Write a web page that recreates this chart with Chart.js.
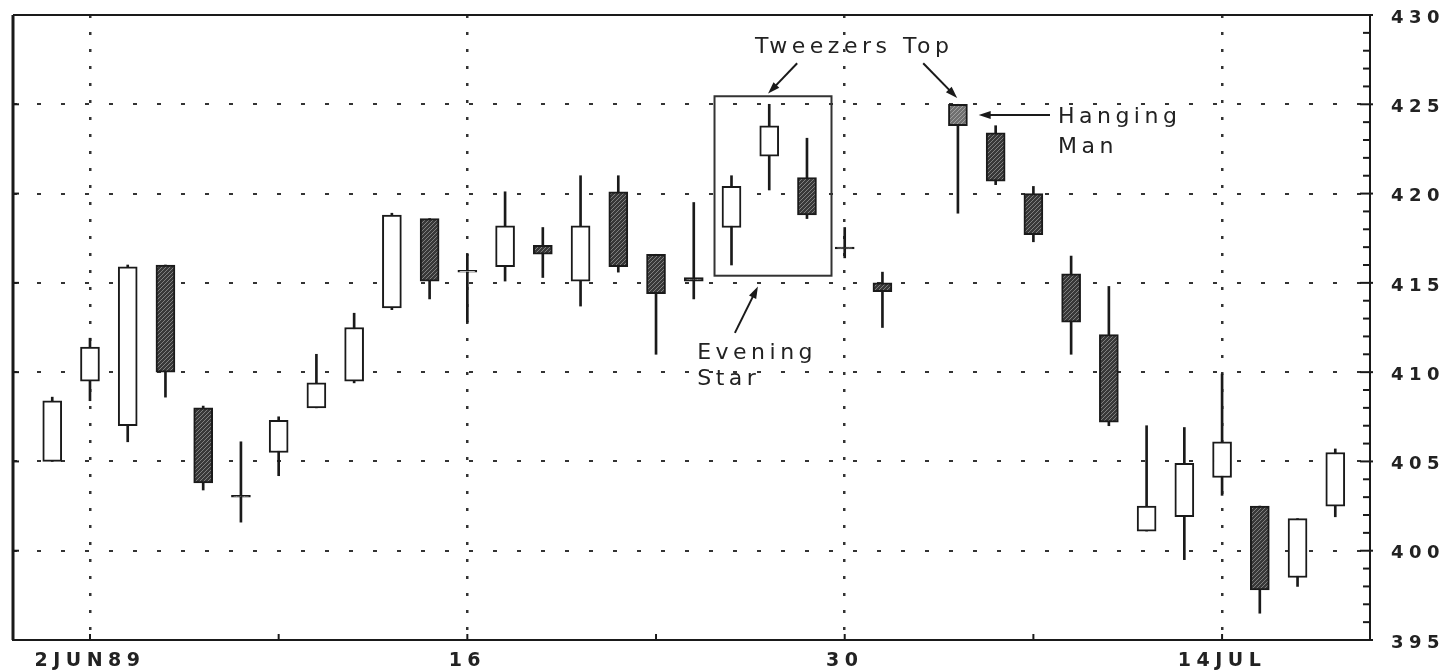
<!DOCTYPE html>
<html>
<head>
<meta charset="utf-8">
<title>Tweezers Top / Hanging Man / Evening Star</title>
<script src="https://cdn.jsdelivr.net/npm/chart.js@4.4.1/dist/chart.umd.min.js"></script>
<style>
  html, body { margin: 0; padding: 0; background: #fff; }
  #wrap { width: 1450px; height: 670px; position: relative; }
</style>
</head>
<body>
<div id="wrap"><canvas id="c"></canvas></div>
<script>
// ---------- Data (daily candles, one slot per weekday, 4 JUL = holiday) ----------
const days = ['1JUN','2JUN','5JUN','6JUN','7JUN','8JUN','9JUN','12JUN','13JUN','14JUN','15JUN',
  '16JUN','19JUN','20JUN','21JUN','22JUN','23JUN','26JUN','27JUN','28JUN','29JUN','30JUN',
  '3JUL','4JUL','5JUL','6JUL','7JUL','10JUL','11JUL','12JUL','13JUL','14JUL','17JUL','18JUL','19JUL'];
const opens  = [405.0,409.5,407.0,416.0,408.0,403.1,405.5,408.0,409.5,413.6,418.6,415.6,415.9,417.1,415.1,420.1,416.6,415.3,418.1,422.1,420.9,417.0,415.0,null,425.0,423.4,420.0,415.5,412.1,401.1,401.9,404.1,402.5,398.5,402.5];
const highs  = [408.6,411.9,416.0,416.0,408.1,406.1,407.5,411.0,413.3,418.9,418.6,416.6,420.1,418.1,421.0,421.0,416.6,419.5,421.0,425.0,423.1,418.1,415.6,null,425.0,423.8,420.4,416.5,414.8,407.0,406.9,409.9,402.5,401.8,405.7];
const lows   = [405.0,408.4,406.1,408.6,403.4,401.6,404.2,408.0,409.4,413.5,414.1,412.8,415.1,415.3,413.7,415.6,411.0,414.1,416.0,420.2,418.6,416.4,412.5,null,418.9,420.5,417.3,411.0,407.0,401.1,399.5,403.1,396.5,398.0,401.9];
const closes = [408.4,411.4,415.9,410.0,403.8,403.0,407.3,409.4,412.5,418.8,415.1,415.7,418.2,416.6,418.2,415.9,414.4,415.1,420.4,423.8,418.8,416.9,414.5,null,423.8,420.7,417.7,412.8,407.2,402.5,404.9,406.1,397.8,401.8,405.5];

// x-axis labels (slot index -> text)
const xTickIdx = [1, 11, 21, 31];
const xTickLabels = ['2JUN89', '16', '30', '14JUL'];
// price axis
const yTicks = [395, 400, 405, 410, 415, 420, 425, 430];

// ---------- Annotations (in slot / price units) ----------
const hangingIdx = 24;
const patternBox = { x1: 17.55, x2: 20.65, y1: 415.4, y2: 425.45 };
const arrows = [
  { from: [19.74, 427.3], to: [18.97, 425.6] },
  { from: [23.08, 427.3], to: [23.98, 425.35] },
  { from: [26.44, 424.4], to: [24.55, 424.4] },
  { from: [18.09, 412.2], to: [18.70, 414.8] }
];
const notes = [
  { text: 'Tweezers Top', x: 21.2, y: 428.2, align: 'center' },
  { text: 'Hanging', x: 26.65, y: 424.3, align: 'left' },
  { text: 'Man', x: 26.65, y: 422.6, align: 'left' },
  { text: 'Evening', x: 17.09, y: 411.05, align: 'left' },
  { text: 'Star', x: 17.09, y: 409.6, align: 'left' }
];

// ---------- Build bar data from the arrays ----------
const wickData = [];
const bodyData = [];
days.forEach((d, i) => {
  if (opens[i] === null) return; // holiday, no trading
  wickData.push({ x: i, y: [lows[i], highs[i]] });
  bodyData.push({ x: i, y: [Math.min(opens[i], closes[i]), Math.max(opens[i], closes[i])], up: closes[i] >= opens[i], day: i });
});

// stippled dark fill like the printed black candles
function stipple(base, dot) {
  const c = document.createElement('canvas');
  c.width = 4; c.height = 4;
  const g = c.getContext('2d');
  g.fillStyle = base; g.fillRect(0, 0, 4, 4);
  g.fillStyle = dot;
  g.fillRect(0, 0, 1, 1); g.fillRect(2, 2, 1, 1); g.fillRect(1, 3, 1, 1); g.fillRect(3, 1, 1, 1);
  return g.createPattern(c, 'repeat');
}
const darkFill = stipple('#383838', '#808080');
const greyFill = stipple('#707070', '#a0a0a0');

const FONT = "'DejaVu Sans', 'Liberation Sans', sans-serif";

// ---------- Extra drawing: frame, minor ticks, pattern annotations ----------
function arrowLine(ctx, x1, y1, x2, y2) {
  const a = Math.atan2(y2 - y1, x2 - x1);
  const len = 12, half = 4;
  ctx.beginPath();
  ctx.moveTo(x1, y1);
  ctx.lineTo(x2 - Math.cos(a) * len * 0.6, y2 - Math.sin(a) * len * 0.6);
  ctx.stroke();
  ctx.beginPath();
  ctx.moveTo(x2, y2);
  ctx.lineTo(x2 - Math.cos(a) * len - Math.sin(a) * half, y2 - Math.sin(a) * len + Math.cos(a) * half);
  ctx.lineTo(x2 - Math.cos(a) * len + Math.sin(a) * half, y2 - Math.sin(a) * len - Math.cos(a) * half);
  ctx.closePath();
  ctx.fill();
}

const extras = {
  id: 'extras',
  beforeDraw(chart) {
    // the printed axis lettering is wide, spread it a little
    chart.ctx.letterSpacing = '5.5px';
  },
  afterDraw(chart) {
    const ctx = chart.ctx;
    const { left, right, top, bottom } = chart.chartArea;
    const xs = chart.scales.x, ys = chart.scales.y;
    ctx.save();
    ctx.letterSpacing = '0px';
    ctx.strokeStyle = '#1a1a1a';
    ctx.fillStyle = '#1a1a1a';

    // frame
    ctx.lineWidth = 2;
    ctx.beginPath();
    ctx.moveTo(left, top); ctx.lineTo(right, top); ctx.lineTo(right, bottom); ctx.lineTo(left, bottom);
    ctx.stroke();
    ctx.lineWidth = 3;
    ctx.beginPath(); ctx.moveTo(left, top); ctx.lineTo(left, bottom); ctx.stroke();

    // price ticks on the right edge (every point), small marks on the left edge
    ctx.lineWidth = 2;
    for (let v = yTicks[0]; v <= yTicks[yTicks.length - 1]; v++) {
      const y = ys.getPixelForValue(v);
      const major = v % 5 === 0;
      ctx.beginPath();
      ctx.moveTo(right - (major ? 10 : 7), y);
      ctx.lineTo(right + (major ? 3 : 0), y);
      ctx.stroke();
      if (major) {
        ctx.beginPath(); ctx.moveTo(left, y); ctx.lineTo(left + 6, y); ctx.stroke();
      }
    }
    // weekly ticks on the time axis
    for (let i = 1; i < days.length; i += 5) {
      const x = xs.getPixelForValue(i);
      ctx.beginPath(); ctx.moveTo(x, bottom - 6); ctx.lineTo(x, bottom); ctx.stroke();
    }

    // pattern box
    ctx.lineWidth = 2;
    ctx.strokeStyle = '#333';
    const bx1 = xs.getPixelForValue(patternBox.x1), bx2 = xs.getPixelForValue(patternBox.x2);
    const by1 = ys.getPixelForValue(patternBox.y2), by2 = ys.getPixelForValue(patternBox.y1);
    ctx.strokeRect(bx1, by1, bx2 - bx1, by2 - by1);

    // arrows
    ctx.strokeStyle = '#1a1a1a';
    ctx.lineWidth = 2;
    arrows.forEach(a => {
      arrowLine(ctx, xs.getPixelForValue(a.from[0]), ys.getPixelForValue(a.from[1]),
        xs.getPixelForValue(a.to[0]), ys.getPixelForValue(a.to[1]));
    });

    // labels
    ctx.font = '22px ' + FONT;
    ctx.letterSpacing = '4.5px';
    ctx.textBaseline = 'middle';
    ctx.fillStyle = '#222';
    notes.forEach(n => {
      ctx.textAlign = n.align;
      ctx.fillText(n.text, xs.getPixelForValue(n.x) + (n.align === 'center' ? 2 : 0), ys.getPixelForValue(n.y));
    });
    ctx.restore();
    ctx.letterSpacing = '0px';
  }
};

// ---------- Chart ----------
const ctx = document.getElementById('c').getContext('2d');
const chart = new Chart(ctx, {
  type: 'bar',
  data: {
    datasets: [
      {
        label: 'High-Low',
        data: wickData,
        backgroundColor: '#1a1a1a',
        borderWidth: 0,
        barThickness: 2,
        grouped: false,
        order: 2
      },
      {
        label: 'Open-Close',
        data: bodyData,
        backgroundColor: c => {
          const r = c.raw;
          if (!r) return '#fff';
          if (r.up) return '#ffffff';
          return r.day === hangingIdx ? greyFill : darkFill;
        },
        borderColor: '#1a1a1a',
        borderWidth: 2,
        borderSkipped: false,
        barThickness: 19,
        grouped: false,
        order: 1
      }
    ]
  },
  options: {
    responsive: true,
    maintainAspectRatio: false,
    animation: false,
    layout: { padding: { left: 13, top: 15, right: 0, bottom: 0 } },
    plugins: {
      legend: { display: false },
      tooltip: { enabled: false }
    },
    scales: {
      x: {
        type: 'linear',
        offset: false,
        min: -1.04,
        max: 34.92,
        afterBuildTicks: s => { s.ticks = xTickIdx.map(v => ({ value: v })); },
        afterFit: s => { s.height = 30; s.paddingLeft = 0; s.paddingRight = 0; },
        ticks: {
          autoSkip: false,
          maxRotation: 0,
          padding: 10,
          color: '#222',
          font: { family: FONT, size: 19, weight: 'bold' },
          callback: v => xTickLabels[xTickIdx.indexOf(v)]
        },
        grid: { offset: false, color: '#333', lineWidth: 2.5, drawTicks: false },
        border: { display: true, color: '#1a1a1a', width: 2, dash: [3, 14] }
      },
      y: {
        position: 'right',
        min: yTicks[0],
        max: yTicks[yTicks.length - 1],
        afterBuildTicks: s => { s.ticks = yTicks.map(v => ({ value: v })); },
        afterFit: s => { s.width = 80; s.paddingTop = 0; s.paddingBottom = 0; },
        ticks: {
          padding: 21,
          labelOffset: 3,
          color: '#222',
          font: { family: FONT, size: 18, weight: 'bold' }
        },
        grid: { color: '#333', lineWidth: 2, drawTicks: false },
        border: { display: true, color: '#1a1a1a', width: 2, dash: [4, 20] }
      }
    }
  },
  plugins: [extras]
});
</script>
</body>
</html>
